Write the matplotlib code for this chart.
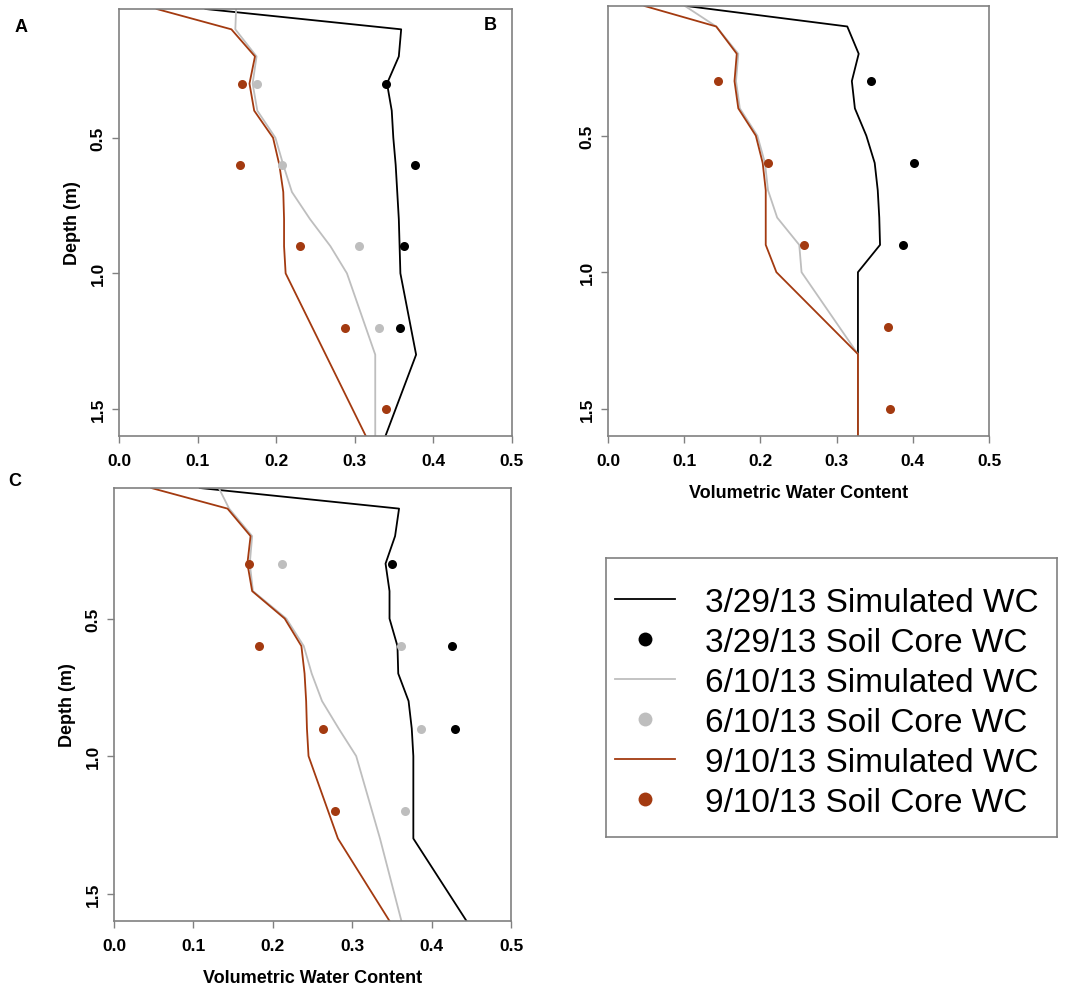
import numpy as np
import matplotlib
matplotlib.use("Agg")
import matplotlib.pyplot as plt
from matplotlib.lines import Line2D

plt.rcParams['font.family'] = ['Liberation Sans', 'DejaVu Sans']

# simulated profiles share one depth grid (m)
sim_depth = [0.025, 0.1, 0.2, 0.3, 0.4, 0.5, 0.6, 0.7, 0.8, 0.9, 1.0, 1.3, 1.6]
# soil core sample depths (m)
core_depth = [0.3, 0.6, 0.9, 1.2, 1.5]

nan = np.nan

# panel A
simA_0329 = [0.110, 0.359, 0.356, 0.341, 0.347, 0.349, 0.352, 0.354, 0.356, 0.357, 0.358, 0.378, 0.339]
simA_0610 = [0.149, 0.148, 0.175, 0.170, 0.176, 0.199, 0.209, 0.220, 0.243, 0.269, 0.290, 0.326, 0.326]
simA_0910 = [0.048, 0.143, 0.173, 0.166, 0.172, 0.196, 0.204, 0.209, 0.210, 0.210, 0.212, 0.263, 0.314]
coreA_0329 = [0.340, 0.376, 0.363, 0.357, nan]
coreA_0610 = [0.175, 0.208, 0.305, 0.331, nan]
coreA_0910 = [0.157, 0.154, 0.230, 0.288, 0.340]

# panel B
simB_0329 = [0.103, 0.314, 0.329, 0.320, 0.324, 0.339, 0.350, 0.354, 0.356, 0.357, 0.328, 0.328, 0.328]
simB_0610 = [0.101, 0.142, 0.171, 0.168, 0.173, 0.196, 0.206, 0.210, 0.222, 0.251, 0.254, 0.328, 0.328]
simB_0910 = [0.048, 0.142, 0.169, 0.166, 0.171, 0.194, 0.203, 0.207, 0.207, 0.207, 0.221, 0.328, 0.328]
coreB_0329 = [0.345, 0.401, 0.387, nan, nan]
coreB_0610 = [nan, nan, nan, nan, nan]
coreB_0910 = [0.145, 0.210, 0.257, 0.367, 0.370]

# panel C
simC_0329 = [0.108, 0.359, 0.354, 0.342, 0.347, 0.347, 0.357, 0.358, 0.371, 0.375, 0.377, 0.377, 0.444]
simC_0610 = [0.132, 0.145, 0.174, 0.171, 0.175, 0.217, 0.239, 0.249, 0.262, 0.283, 0.305, 0.335, 0.362]
simC_0910 = [0.047, 0.143, 0.172, 0.168, 0.174, 0.215, 0.236, 0.240, 0.242, 0.243, 0.245, 0.282, 0.347]
coreC_0329 = [0.350, 0.426, 0.429, nan, nan]
coreC_0610 = [0.211, 0.361, 0.387, 0.366, nan]
coreC_0910 = [0.170, 0.182, 0.263, 0.278, nan]

labels = ['3/29/13 Simulated WC', '3/29/13 Soil Core WC',
          '6/10/13 Simulated WC', '6/10/13 Soil Core WC',
          '9/10/13 Simulated WC', '9/10/13 Soil Core WC']

c_black = '#000000'
c_grey = '#BEBEBE'
c_brown = '#A33A10'
spine_c = '#808080'

fig = plt.figure(figsize=(10.8, 9.87), dpi=100)
W, H = 1080, 987


def px_axes(x0, y0, x1, y1):
    return fig.add_axes([x0 / W, 1 - y1 / H, (x1 - x0) / W, (y1 - y0) / H])


def panel(ax, sims, cores, xlabel=False):
    for wc, col in zip(sims, [c_black, c_grey, c_brown]):
        ax.plot(wc, sim_depth, color=col, lw=1.3)
    for wc, col in zip(cores, [c_black, c_grey, c_brown]):
        ax.plot(wc, core_depth, 'o', color=col, ms=6.5, mec='none')
    ax.set_xlim(0, 0.5)
    ax.set_ylim(1.6, 0.025)
    ax.set_xticks([0.0, 0.1, 0.2, 0.3, 0.4, 0.5])
    ax.set_xticklabels(['0.0', '0.1', '0.2', '0.3', '0.4', '0.5'],
                       fontsize=12.5, fontweight='bold')
    ax.set_yticks([0.5, 1.0, 1.5])
    ax.set_yticklabels(['0.5', '1.0', '1.5'], fontsize=12.5,
                       fontweight='bold', rotation=90, va='center')
    ax.tick_params(length=5, width=1, color=spine_c)
    ax.tick_params(axis='x', pad=7.3)
    ax.tick_params(axis='y', pad=4.5)
    for s in ax.spines.values():
        s.set_color(spine_c)
        s.set_linewidth(1.2)
    if xlabel:
        ax.set_xlabel('Volumetric Water Content', fontsize=13,
                      fontweight='bold', labelpad=11.5)


axA = px_axes(119, 10, 512, 437)
panel(axA, [simA_0329, simA_0610, simA_0910], [coreA_0329, coreA_0610, coreA_0910])
axA.set_ylabel('Depth (m)', fontsize=13, fontweight='bold', labelpad=7)

axB = px_axes(608, 7, 989, 437)
panel(axB, [simB_0329, simB_0610, simB_0910], [coreB_0329, coreB_0610, coreB_0910], xlabel=True)

axC = px_axes(114, 489, 511, 922)
panel(axC, [simC_0329, simC_0610, simC_0910], [coreC_0329, coreC_0610, coreC_0910], xlabel=True)
axC.set_ylabel('Depth (m)', fontsize=13, fontweight='bold', labelpad=7)

# panel letters
fig.text(21 / W, 1 - 27 / H, 'A', fontsize=13, fontweight='bold', ha='center', va='center')
fig.text(490 / W, 1 - 25 / H, 'B', fontsize=13, fontweight='bold', ha='center', va='center')
fig.text(15 / W, 1 - 482 / H, 'C', fontsize=13, fontweight='bold', ha='center', va='center')

# legend box
axL = px_axes(606, 559, 1057, 838)
axL.set_xticks([])
axL.set_yticks([])
for s in axL.spines.values():
    s.set_color(spine_c)
    s.set_linewidth(1.2)
handles = [
    Line2D([], [], color=c_black, lw=1.3),
    Line2D([], [], ls='none', marker='o', color=c_black, ms=10, mec='none'),
    Line2D([], [], color=c_grey, lw=1.3),
    Line2D([], [], ls='none', marker='o', color=c_grey, ms=10, mec='none'),
    Line2D([], [], color=c_brown, lw=1.3),
    Line2D([], [], ls='none', marker='o', color=c_brown, ms=10, mec='none'),
]
axL.legend(handles, labels, loc='upper left',
           bbox_to_anchor=(615 / W, 1 - 588 / H), bbox_transform=fig.transFigure,
           frameon=False, fontsize=24, handlelength=1.8, handletextpad=0.9,
           labelspacing=0.27, borderaxespad=0, borderpad=0)

fig.savefig('out.png', dpi=100)
